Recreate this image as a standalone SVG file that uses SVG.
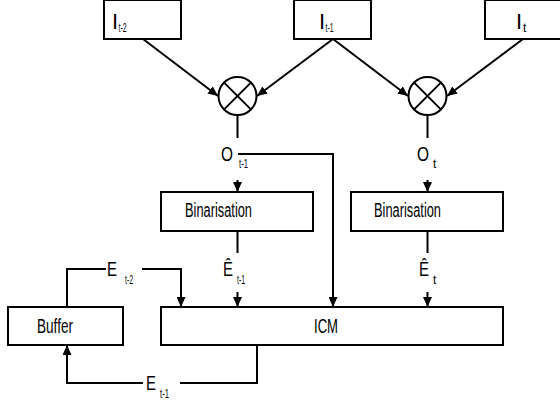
<svg xmlns="http://www.w3.org/2000/svg" width="560" height="403" viewBox="0 0 560 403">
  <style>
    .box { fill: #fff; stroke: #000; stroke-width: 2; }
    .ln { fill: none; stroke: #000; stroke-width: 2; }
    .arr { marker-end: url(#ah); }
    text { font-family: "Liberation Sans", Arial, sans-serif; fill: #000; }
    .lbl { font-size: 20px; }
    .big { font-size: 22px; }
    .sub { font-size: 12px; }
  </style>
  <defs>
    <marker id="ah" markerUnits="userSpaceOnUse" markerWidth="10" markerHeight="9" refX="10" refY="4.5" orient="auto">
      <path d="M0,0 L10,4.5 L0,9 Z" fill="#000"/>
    </marker>
  </defs>

  <rect width="560" height="403" fill="#fff"/>

  <!-- connectors -->
  <g id="connectors">
    <line class="ln arr" x1="143" y1="39" x2="218" y2="96"/>
    <line class="ln arr" x1="333" y1="39" x2="257" y2="96"/>
    <line class="ln arr" x1="333" y1="39" x2="408" y2="96"/>
    <line class="ln arr" x1="523" y1="39" x2="447" y2="96"/>
    <line class="ln" x1="237.5" y1="115" x2="237.5" y2="138"/>
    <line class="ln" x1="427.5" y1="115" x2="427.5" y2="138"/>
    <polyline class="ln arr" points="238,154 333,154 333,307"/>
    <line class="ln arr" x1="237.5" y1="180" x2="237.5" y2="192"/>
    <line class="ln arr" x1="427.5" y1="180" x2="427.5" y2="192"/>
    <line class="ln" x1="237.5" y1="231" x2="237.5" y2="253"/>
    <line class="ln" x1="427.5" y1="231" x2="427.5" y2="253"/>
    <line class="ln arr" x1="237.5" y1="292" x2="237.5" y2="307"/>
    <line class="ln arr" x1="427.5" y1="292" x2="427.5" y2="307"/>
    <polyline class="ln" points="67,307 67,269 106,269"/>
    <polyline class="ln arr" points="142,269 181,269 181,307"/>
    <polyline class="ln" points="257,345 257,383 180,383"/>
    <polyline class="ln arr" points="143,383 67,383 67,345"/>
  </g>

  <!-- inputs -->
  <g id="in-t2">
    <rect class="box" x="104" y="0" width="77" height="39"/>
    <text class="big" x="112" y="29">I</text>
    <text class="sub" x="118.5" y="32" textLength="8" lengthAdjust="spacingAndGlyphs">t-2</text>
  </g>
  <g id="in-t1">
    <rect class="box" x="294" y="0" width="77" height="39"/>
    <text class="big" x="319" y="29">I</text>
    <text class="sub" x="325.5" y="32" textLength="8" lengthAdjust="spacingAndGlyphs">t-1</text>
  </g>
  <g id="in-t">
    <rect class="box" x="485" y="0" width="77" height="39"/>
    <text class="big" x="516" y="29">I</text>
    <text class="sub" x="523" y="32">t</text>
  </g>

  <!-- multipliers -->
  <g id="mul-1">
    <circle class="box" cx="237.5" cy="96" r="19"/>
    <path class="ln" d="M224.1,82.6 L250.9,109.4 M250.9,82.6 L224.1,109.4"/>
  </g>
  <g id="mul-2">
    <circle class="box" cx="427.5" cy="96" r="19"/>
    <path class="ln" d="M414.1,82.6 L440.9,109.4 M440.9,82.6 L414.1,109.4"/>
  </g>

  <!-- signal labels -->
  <g id="lbl-o-t1">
    <text class="lbl" x="221" y="161" textLength="12" lengthAdjust="spacingAndGlyphs">O</text>
    <text class="sub" x="239" y="168" textLength="9" lengthAdjust="spacingAndGlyphs">t-1</text>
  </g>
  <g id="lbl-o-t">
    <text class="lbl" x="417" y="161" textLength="12" lengthAdjust="spacingAndGlyphs">O</text>
    <text class="sub" x="433" y="168">t</text>
  </g>

  <!-- binarisation -->
  <g id="bin-1">
    <rect class="box" x="161" y="192" width="152" height="39"/>
    <text class="lbl" x="185" y="217" textLength="67" lengthAdjust="spacingAndGlyphs">Binarisation</text>
  </g>
  <g id="bin-2">
    <rect class="box" x="351" y="192" width="152" height="39"/>
    <text class="lbl" x="374" y="217" textLength="67" lengthAdjust="spacingAndGlyphs">Binarisation</text>
  </g>

  <g id="lbl-ehat-t1">
    <text class="lbl" x="223" y="276" textLength="10" lengthAdjust="spacingAndGlyphs">Ê</text>
    <text class="sub" x="237" y="284" textLength="8" lengthAdjust="spacingAndGlyphs">t-1</text>
  </g>
  <g id="lbl-ehat-t">
    <text class="lbl" x="419" y="276" textLength="10" lengthAdjust="spacingAndGlyphs">Ê</text>
    <text class="sub" x="433" y="284">t</text>
  </g>
  <g id="lbl-e-t2">
    <text class="lbl" x="107" y="276" textLength="10" lengthAdjust="spacingAndGlyphs">E</text>
    <text class="sub" x="125" y="284" textLength="8" lengthAdjust="spacingAndGlyphs">t-2</text>
  </g>
  <g id="lbl-e-t1">
    <text class="lbl" x="146" y="390" textLength="10" lengthAdjust="spacingAndGlyphs">E</text>
    <text class="sub" x="160" y="398" textLength="9" lengthAdjust="spacingAndGlyphs">t-1</text>
  </g>

  <!-- buffer and ICM -->
  <g id="buffer">
    <rect class="box" x="8" y="307" width="115" height="38"/>
    <text class="lbl" x="37" y="333" textLength="36" lengthAdjust="spacingAndGlyphs">Buffer</text>
  </g>
  <g id="icm">
    <rect class="box" x="161" y="307" width="342" height="38"/>
    <text class="lbl" x="314" y="333" textLength="24" lengthAdjust="spacingAndGlyphs">ICM</text>
  </g>
</svg>
